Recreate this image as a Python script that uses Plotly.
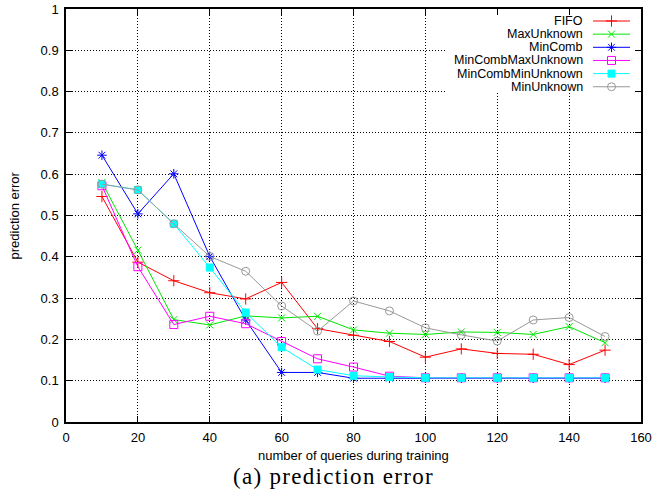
import plotly.graph_objects as go

# ---- data ----
queries = [10, 20, 30, 40, 50, 60, 70, 80, 90, 100, 110, 120, 130, 140, 150]
fifo = [0.546, 0.387, 0.342, 0.313, 0.298, 0.338, 0.226, 0.210, 0.195, 0.157, 0.177, 0.166, 0.164, 0.139, 0.174]
max_unknown = [0.580, 0.416, 0.248, 0.235, 0.257, 0.252, 0.256, 0.223, 0.215, 0.212, 0.218, 0.217, 0.212, 0.231, 0.192]
min_comb = [0.646, 0.504, 0.601, 0.401, 0.247, 0.120, 0.120, 0.106, 0.106, 0.106, 0.106, 0.106, 0.106, 0.106, 0.106]
min_comb_max_unknown = [0.572, 0.376, 0.236, 0.256, 0.238, 0.195, 0.153, 0.133, 0.111, 0.107, 0.107, 0.107, 0.107, 0.107, 0.107]
min_comb_min_unknown = [0.576, 0.562, 0.480, 0.374, 0.265, 0.181, 0.127, 0.112, 0.109, 0.107, 0.107, 0.107, 0.107, 0.107, 0.107]
min_unknown = [0.576, 0.562, 0.480, 0.401, 0.365, 0.281, 0.220, 0.293, 0.269, 0.228, 0.211, 0.196, 0.247, 0.253, 0.207]

series_names = ["FIFO", "MaxUnknown", "MinComb", "MinCombMaxUnknown", "MinCombMinUnknown", "MinUnknown"]
series_values = [fifo, max_unknown, min_comb, min_comb_max_unknown, min_comb_min_unknown, min_unknown]

x_ticks = [0, 20, 40, 60, 80, 100, 120, 140, 160]
y_ticks = [0, 0.1, 0.2, 0.3, 0.4, 0.5, 0.6, 0.7, 0.8, 0.9, 1]

# ---- styles ----
colors = ["#ff0000", "#00e600", "#0000ff", "#ff00ff", "#00ffff", "#999999"]
symbols = ["cross-thin", "x-thin", "asterisk-open", "square-open", "square", "circle-open"]
sizes = [8, 7, 8, 8, 7, 8]

W, H = 658, 490
L, R, T, B = 66, 641, 9, 422  # plot area in px
X_MAX, Y_MAX = 160, 1
SANS = "Liberation Sans, Arial, sans-serif"


def px_to_x(px):
    return (px - L) / (R - L) * X_MAX


def py_to_y(py):
    return (B - py) / (B - T) * Y_MAX


fig = go.Figure()

for name, vals, c, s, sz in zip(series_names, series_values, colors, symbols, sizes):
    fig.add_trace(go.Scatter(
        x=queries, y=vals, name=name, mode="lines+markers",
        line=dict(color=c, width=1),
        marker=dict(symbol=s, size=sz, color=c, line=dict(color=c, width=1)),
        showlegend=False,
    ))

# ---- custom gnuplot-style legend ----
row0, row_step = 21.0, 13.15
text_right, line_x0, line_x1 = 585, 593, 630
shapes = [dict(type="rect", xref="x", yref="y", x0=px_to_x(447), x1=px_to_x(639),
               y0=py_to_y(13), y1=py_to_y(93),
               fillcolor="white", line=dict(width=0), layer="between")]
annotations = []
for i, (name, c, s, sz) in enumerate(zip(series_names, colors, symbols, sizes)):
    yy = row0 + i * row_step
    shapes.append(dict(type="line", xref="x", yref="y", x0=px_to_x(line_x0), x1=px_to_x(line_x1),
                       y0=py_to_y(yy), y1=py_to_y(yy),
                       line=dict(color=c, width=1), layer="between"))
    annotations.append(dict(xref="x", yref="y", x=px_to_x(text_right), y=py_to_y(yy), text=name,
                            showarrow=False, xanchor="right", yanchor="middle",
                            font=dict(family=SANS, size=12.5, color="black")))
    fig.add_trace(go.Scatter(
        x=[px_to_x((line_x0 + line_x1) / 2)], y=[py_to_y(yy)], mode="markers",
        marker=dict(symbol=s, size=sz, color=c, line=dict(color=c, width=1)),
        showlegend=False, hoverinfo="skip", cliponaxis=False,
    ))

# axis titles and caption
annotations.append(dict(xref="paper", yref="paper", x=0.5, y=-(455 - B) / (B - T),
                        text="number of queries during training", showarrow=False,
                        xanchor="center", yanchor="middle",
                        font=dict(family=SANS, size=13, color="black")))
annotations.append(dict(xref="paper", yref="paper", x=-(L - 14) / (R - L), y=0.5,
                        text="prediction error", showarrow=False, textangle=-90,
                        xanchor="center", yanchor="middle",
                        font=dict(family=SANS, size=13, color="black")))
annotations.append(dict(xref="paper", yref="paper", x=(333 - L) / (R - L), y=-(476 - B) / (B - T),
                        text='<span style="letter-spacing:1.3px">(a) prediction error</span>',
                        showarrow=False, xanchor="center", yanchor="middle",
                        font=dict(family="Liberation Serif, serif", size=23, color="black")))

grid = dict(showgrid=True, gridcolor="black", gridwidth=1, griddash="1px,2px")
axis_common = dict(ticks="inside", ticklen=6, tickcolor="black", tickwidth=1, showline=True,
                   linecolor="black", linewidth=1.5, mirror="ticks", zeroline=False,
                   tickfont=dict(family=SANS, size=13, color="black"), **grid)
fig.update_layout(
    width=W, height=H,
    margin=dict(l=L, r=W - R, t=T, b=H - B, autoexpand=False),
    paper_bgcolor="white", plot_bgcolor="white",
    font=dict(family=SANS, size=13, color="black"),
    hovermode=False,
    xaxis=dict(range=[0, X_MAX], tickvals=x_ticks, ticktext=[str(v) for v in x_ticks],
               ticklabelstandoff=3, **axis_common),
    yaxis=dict(range=[0, Y_MAX], tickvals=y_ticks, ticktext=[("%g" % v) for v in y_ticks],
               ticklabelstandoff=3, **axis_common),
    shapes=shapes,
    annotations=annotations,
)

fig.write_html("out.html", config={"displayModeBar": False},
               post_script="document.body.style.margin='0';")
